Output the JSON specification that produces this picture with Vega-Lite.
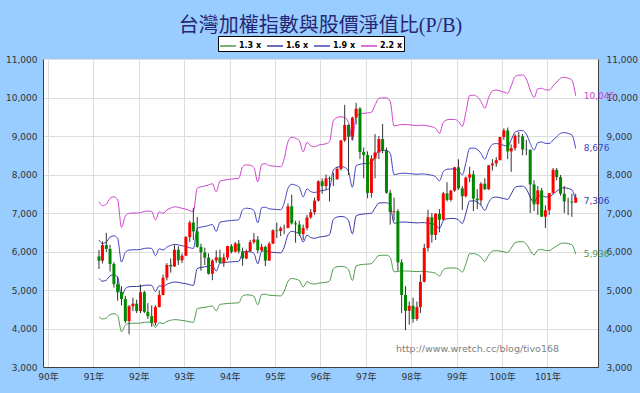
{
"$schema": "https://vega.github.io/schema/vega-lite/v6.json",
"width": 555, "height": 308,
"autosize": {"type": "none"},
"padding": {"left": 43, "top": 59, "right": 42, "bottom": 26},
"background": "#99CCFF",
"config": {
  "view": {"fill": "#FFFFFF", "stroke": "#A0A0A0"},
  "axis": {"labelFont": "DejaVu Sans, Noto Sans CJK TC", "labelFontSize": 9, "labelColor": "#333333", "domainColor": "#404040", "gridColor": "#DDDDDD", "ticks": false, "title": null, "labelOverlap": false, "labelFlush": false}
},
"title": {"text": "台灣加權指數與股價淨值比(P/B)", "font": "Liberation Serif, Noto Sans CJK TC", "fontSize": 20, "fontWeight": "normal", "color": "#262673", "anchor": "middle", "offset": 0},
"datasets": {
"m": [
{"date":"2002-02-15","open":5872,"high":6040,"low":5545,"close":5760,"pb13":4308,"pb16":5302,"pb19":6296,"pb22":7290},
{"date":"2002-03-15","open":5760,"high":6260,"low":5690,"close":6167,"pb13":4249,"pb16":5229,"pb19":6210,"pb22":7190},
{"date":"2002-04-15","open":6167,"high":6484,"low":5990,"close":6066,"pb13":4272,"pb16":5258,"pb19":6244,"pb22":7230},
{"date":"2002-05-15","open":6066,"high":6170,"low":5480,"close":5676,"pb13":4361,"pb16":5367,"pb19":6374,"pb22":7380},
{"date":"2002-06-15","open":5676,"high":5720,"low":5060,"close":5153,"pb13":4385,"pb16":5396,"pb19":6408,"pb22":7420},
{"date":"2002-07-15","open":5153,"high":5340,"low":4720,"close":4941,"pb13":4337,"pb16":5338,"pb19":6339,"pb22":7340},
{"date":"2002-08-15","open":4941,"high":5100,"low":4600,"close":4765,"pb13":3918,"pb16":4822,"pb19":5726,"pb22":6630},
{"date":"2002-09-15","open":4765,"high":4850,"low":4140,"close":4192,"pb13":4089,"pb16":5033,"pb19":5976,"pb22":6920},
{"date":"2002-10-15","open":4192,"high":4610,"low":3850,"close":4579,"pb13":4130,"pb16":5084,"pb19":6037,"pb22":6990},
{"date":"2002-11-15","open":4579,"high":4800,"low":4450,"close":4645,"pb13":4136,"pb16":5091,"pb19":6045,"pb22":7000},
{"date":"2002-12-15","open":4645,"high":4750,"low":4400,"close":4452,"pb13":4136,"pb16":5091,"pb19":6045,"pb22":7000},
{"date":"2003-01-15","open":4452,"high":5141,"low":4400,"close":4941,"pb13":4142,"pb16":5098,"pb19":6054,"pb22":7010},
{"date":"2003-02-15","open":4941,"high":4980,"low":4400,"close":4432,"pb13":4160,"pb16":5120,"pb19":6080,"pb22":7040},
{"date":"2003-03-15","open":4432,"high":4660,"low":4250,"close":4321,"pb13":4166,"pb16":5127,"pb19":6089,"pb22":7050},
{"date":"2003-04-15","open":4321,"high":4600,"low":4044,"close":4148,"pb13":4160,"pb16":5120,"pb19":6080,"pb22":7040},
{"date":"2003-05-15","open":4148,"high":4600,"low":4080,"close":4556,"pb13":4030,"pb16":4960,"pb19":5890,"pb22":6820},
{"date":"2003-06-15","open":4556,"high":4990,"low":4550,"close":4872,"pb13":4154,"pb16":5113,"pb19":6071,"pb22":7030},
{"date":"2003-07-15","open":4872,"high":5400,"low":4860,"close":5318,"pb13":4130,"pb16":5084,"pb19":6037,"pb22":6990},
{"date":"2003-08-15","open":5318,"high":5700,"low":5250,"close":5651,"pb13":4184,"pb16":5149,"pb19":6115,"pb22":7080},
{"date":"2003-09-15","open":5651,"high":5820,"low":5450,"close":5611,"pb13":4213,"pb16":5186,"pb19":6158,"pb22":7130},
{"date":"2003-10-15","open":5611,"high":6180,"low":5600,"close":6045,"pb13":4231,"pb16":5207,"pb19":6184,"pb22":7160},
{"date":"2003-11-15","open":6045,"high":6140,"low":5650,"close":5772,"pb13":4225,"pb16":5200,"pb19":6175,"pb22":7150},
{"date":"2003-12-15","open":5772,"high":5950,"low":5700,"close":5891,"pb13":4207,"pb16":5178,"pb19":6149,"pb22":7120},
{"date":"2004-01-15","open":5891,"high":6400,"low":5880,"close":6375,"pb13":4195,"pb16":5164,"pb19":6132,"pb22":7100},
{"date":"2004-02-15","open":6375,"high":6800,"low":6250,"close":6751,"pb13":4172,"pb16":5135,"pb19":6097,"pb22":7060},
{"date":"2004-03-15","open":6751,"high":7135,"low":6300,"close":6522,"pb13":4160,"pb16":5120,"pb19":6080,"pb22":7040},
{"date":"2004-04-15","open":6522,"high":6900,"low":6100,"close":6118,"pb13":4515,"pb16":5557,"pb19":6598,"pb22":7640},
{"date":"2004-05-15","open":6118,"high":6200,"low":5500,"close":5978,"pb13":4538,"pb16":5586,"pb19":6633,"pb22":7680},
{"date":"2004-06-15","open":5978,"high":6100,"low":5650,"close":5839,"pb13":4550,"pb16":5600,"pb19":6650,"pb22":7700},
{"date":"2004-07-15","open":5839,"high":5950,"low":5400,"close":5421,"pb13":4568,"pb16":5622,"pb19":6676,"pb22":7730},
{"date":"2004-08-15","open":5421,"high":5800,"low":5255,"close":5766,"pb13":4585,"pb16":5644,"pb19":6702,"pb22":7760},
{"date":"2004-09-15","open":5766,"high":6030,"low":5700,"close":5846,"pb13":4461,"pb16":5491,"pb19":6520,"pb22":7550},
{"date":"2004-10-15","open":5846,"high":6050,"low":5700,"close":5706,"pb13":4627,"pb16":5695,"pb19":6762,"pb22":7830},
{"date":"2004-11-15","open":5706,"high":5950,"low":5600,"close":5845,"pb13":4639,"pb16":5709,"pb19":6780,"pb22":7850},
{"date":"2004-12-15","open":5845,"high":6150,"low":5780,"close":6140,"pb13":4650,"pb16":5724,"pb19":6797,"pb22":7870},
{"date":"2005-01-15","open":6140,"high":6190,"low":5950,"close":5994,"pb13":4656,"pb16":5731,"pb19":6805,"pb22":7880},
{"date":"2005-02-15","open":5994,"high":6250,"low":5980,"close":6208,"pb13":4662,"pb16":5738,"pb19":6814,"pb22":7890},
{"date":"2005-03-15","open":6208,"high":6300,"low":5950,"close":6006,"pb13":4668,"pb16":5745,"pb19":6823,"pb22":7900},
{"date":"2005-04-15","open":6006,"high":6100,"low":5630,"close":5818,"pb13":4845,"pb16":5964,"pb19":7082,"pb22":8200},
{"date":"2005-05-15","open":5818,"high":6050,"low":5800,"close":6012,"pb13":4875,"pb16":6000,"pb19":7125,"pb22":8250},
{"date":"2005-06-15","open":6012,"high":6300,"low":6000,"close":6242,"pb13":4869,"pb16":5993,"pb19":7116,"pb22":8240},
{"date":"2005-07-15","open":6242,"high":6480,"low":6200,"close":6312,"pb13":4834,"pb16":5949,"pb19":7064,"pb22":8180},
{"date":"2005-08-15","open":6312,"high":6400,"low":5950,"close":6033,"pb13":4615,"pb16":5680,"pb19":6745,"pb22":7810},
{"date":"2005-09-15","open":6033,"high":6200,"low":6000,"close":6119,"pb13":4881,"pb16":6007,"pb19":7134,"pb22":8260},
{"date":"2005-10-15","open":6119,"high":6150,"low":5620,"close":5764,"pb13":4893,"pb16":6022,"pb19":7151,"pb22":8280},
{"date":"2005-11-15","open":5764,"high":6250,"low":5760,"close":6203,"pb13":4863,"pb16":5986,"pb19":7108,"pb22":8230},
{"date":"2005-12-15","open":6203,"high":6580,"low":6200,"close":6548,"pb13":4857,"pb16":5978,"pb19":7099,"pb22":8220},
{"date":"2006-01-15","open":6548,"high":6750,"low":6350,"close":6532,"pb13":4851,"pb16":5971,"pb19":7090,"pb22":8210},
{"date":"2006-02-15","open":6532,"high":6650,"low":6400,"close":6605,"pb13":4845,"pb16":5964,"pb19":7082,"pb22":8200},
{"date":"2006-03-15","open":6605,"high":6700,"low":6450,"close":6614,"pb13":4964,"pb16":6109,"pb19":7255,"pb22":8400},
{"date":"2006-04-15","open":6614,"high":7250,"low":6600,"close":7172,"pb13":5230,"pb16":6437,"pb19":7643,"pb22":8850},
{"date":"2006-05-15","open":7172,"high":7475,"low":6700,"close":6732,"pb13":5300,"pb16":6524,"pb19":7747,"pb22":8970},
{"date":"2006-06-15","open":6732,"high":6800,"low":6230,"close":6704,"pb13":5283,"pb16":6502,"pb19":7721,"pb22":8940},
{"date":"2006-07-15","open":6704,"high":6800,"low":6400,"close":6455,"pb13":5247,"pb16":6458,"pb19":7669,"pb22":8880},
{"date":"2006-08-15","open":6455,"high":6700,"low":6300,"close":6611,"pb13":5076,"pb16":6247,"pb19":7419,"pb22":8590},
{"date":"2006-09-15","open":6611,"high":6950,"low":6550,"close":6884,"pb13":5218,"pb16":6422,"pb19":7626,"pb22":8830},
{"date":"2006-10-15","open":6884,"high":7100,"low":6850,"close":7021,"pb13":5170,"pb16":6364,"pb19":7557,"pb22":8750},
{"date":"2006-11-15","open":7021,"high":7400,"low":6950,"close":7321,"pb13":5153,"pb16":6342,"pb19":7531,"pb22":8720},
{"date":"2006-12-15","open":7321,"high":7850,"low":7300,"close":7824,"pb13":5176,"pb16":6371,"pb19":7565,"pb22":8760},
{"date":"2007-01-15","open":7824,"high":7900,"low":7500,"close":7700,"pb13":5188,"pb16":6386,"pb19":7583,"pb22":8780},
{"date":"2007-02-15","open":7700,"high":8000,"low":7600,"close":7902,"pb13":5200,"pb16":6400,"pb19":7600,"pb22":8800},
{"date":"2007-03-15","open":7902,"high":7950,"low":7300,"close":7884,"pb13":5230,"pb16":6437,"pb19":7643,"pb22":8850},
{"date":"2007-04-15","open":7884,"high":8050,"low":7700,"close":7875,"pb13":5555,"pb16":6836,"pb19":8118,"pb22":9400},
{"date":"2007-05-15","open":7875,"high":8200,"low":7870,"close":8145,"pb13":5602,"pb16":6895,"pb19":8187,"pb22":9480},
{"date":"2007-06-15","open":8145,"high":8900,"low":8100,"close":8883,"pb13":5614,"pb16":6909,"pb19":8205,"pb22":9500},
{"date":"2007-07-15","open":8883,"high":9809,"low":8850,"close":9287,"pb13":5602,"pb16":6895,"pb19":8187,"pb22":9480},
{"date":"2007-08-15","open":9287,"high":9300,"low":7987,"close":8982,"pb13":5525,"pb16":6800,"pb19":8075,"pb22":9350},
{"date":"2007-09-15","open":8982,"high":9500,"low":8900,"close":9477,"pb13":5247,"pb16":6458,"pb19":7669,"pb22":8880},
{"date":"2007-10-15","open":9477,"high":9860,"low":9300,"close":9711,"pb13":5625,"pb16":6924,"pb19":8222,"pb22":9520},
{"date":"2007-11-15","open":9711,"high":9750,"low":8400,"close":8586,"pb13":5655,"pb16":6960,"pb19":8265,"pb22":9570},
{"date":"2007-12-15","open":8586,"high":8700,"low":7900,"close":8506,"pb13":5667,"pb16":6975,"pb19":8282,"pb22":9590},
{"date":"2008-01-15","open":8506,"high":8600,"low":7384,"close":7521,"pb13":5673,"pb16":6982,"pb19":8291,"pb22":9600},
{"date":"2008-02-15","open":7521,"high":8500,"low":7400,"close":8413,"pb13":5685,"pb16":6996,"pb19":8308,"pb22":9620},
{"date":"2008-03-15","open":8413,"high":9049,"low":7900,"close":8573,"pb13":5791,"pb16":7127,"pb19":8464,"pb22":9800},
{"date":"2008-04-15","open":8573,"high":9000,"low":8400,"close":8920,"pb13":5897,"pb16":7258,"pb19":8619,"pb22":9980},
{"date":"2008-05-15","open":8920,"high":9310,"low":8550,"close":8619,"pb13":5903,"pb16":7266,"pb19":8628,"pb22":9990},
{"date":"2008-06-15","open":8619,"high":8700,"low":7500,"close":7524,"pb13":5903,"pb16":7266,"pb19":8628,"pb22":9990},
{"date":"2008-07-15","open":7524,"high":7600,"low":6700,"close":7024,"pb13":5850,"pb16":7200,"pb19":8550,"pb22":9900},
{"date":"2008-08-15","open":7024,"high":7400,"low":6800,"close":7046,"pb13":5472,"pb16":6735,"pb19":7997,"pb22":9260},
{"date":"2008-09-15","open":7046,"high":7100,"low":5500,"close":5719,"pb13":5484,"pb16":6749,"pb19":8015,"pb22":9280},
{"date":"2008-10-15","open":5719,"high":5800,"low":4400,"close":4871,"pb13":5495,"pb16":6764,"pb19":8032,"pb22":9300},
{"date":"2008-11-15","open":4871,"high":5100,"low":3955,"close":4460,"pb13":5495,"pb16":6764,"pb19":8032,"pb22":9300},
{"date":"2008-12-15","open":4460,"high":4700,"low":4100,"close":4591,"pb13":5490,"pb16":6756,"pb19":8023,"pb22":9290},
{"date":"2009-01-15","open":4591,"high":4800,"low":4150,"close":4248,"pb13":5484,"pb16":6749,"pb19":8015,"pb22":9280},
{"date":"2009-02-15","open":4248,"high":4700,"low":4200,"close":4557,"pb13":5478,"pb16":6742,"pb19":8006,"pb22":9270},
{"date":"2009-03-15","open":4557,"high":5400,"low":4400,"close":5211,"pb13":5484,"pb16":6749,"pb19":8015,"pb22":9280},
{"date":"2009-04-15","open":5211,"high":6200,"low":5200,"close":6092,"pb13":5484,"pb16":6749,"pb19":8015,"pb22":9280},
{"date":"2009-05-15","open":6092,"high":7084,"low":6000,"close":6890,"pb13":5472,"pb16":6735,"pb19":7997,"pb22":9260},
{"date":"2009-06-15","open":6890,"high":7000,"low":6230,"close":6432,"pb13":5460,"pb16":6720,"pb19":7980,"pb22":9240},
{"date":"2009-07-15","open":6432,"high":7000,"low":6300,"close":6979,"pb13":5436,"pb16":6691,"pb19":7945,"pb22":9200},
{"date":"2009-08-15","open":6979,"high":7100,"low":6500,"close":6826,"pb13":5359,"pb16":6596,"pb19":7833,"pb22":9070},
{"date":"2009-09-15","open":6826,"high":7550,"low":6800,"close":7509,"pb13":5525,"pb16":6800,"pb19":8075,"pb22":9350},
{"date":"2009-10-15","open":7509,"high":7800,"low":7300,"close":7340,"pb13":5566,"pb16":6851,"pb19":8135,"pb22":9420},
{"date":"2009-11-15","open":7340,"high":7600,"low":7300,"close":7582,"pb13":5572,"pb16":6858,"pb19":8144,"pb22":9430},
{"date":"2009-12-15","open":7582,"high":8200,"low":7550,"close":8188,"pb13":5572,"pb16":6858,"pb19":8144,"pb22":9430},
{"date":"2010-01-15","open":8188,"high":8395,"low":7600,"close":7640,"pb13":5543,"pb16":6822,"pb19":8101,"pb22":9380},
{"date":"2010-02-15","open":7640,"high":7700,"low":7080,"close":7436,"pb13":5466,"pb16":6727,"pb19":7989,"pb22":9250},
{"date":"2010-03-15","open":7436,"high":7950,"low":7400,"close":7920,"pb13":5673,"pb16":6982,"pb19":8291,"pb22":9600},
{"date":"2010-04-15","open":7920,"high":8200,"low":7800,"close":8004,"pb13":5939,"pb16":7309,"pb19":8679,"pb22":10050},
{"date":"2010-05-15","open":8004,"high":8100,"low":7050,"close":7374,"pb13":5945,"pb16":7316,"pb19":8688,"pb22":10060},
{"date":"2010-06-15","open":7374,"high":7620,"low":7100,"close":7329,"pb13":5921,"pb16":7287,"pb19":8654,"pb22":10020},
{"date":"2010-07-15","open":7329,"high":7800,"low":7200,"close":7761,"pb13":5850,"pb16":7200,"pb19":8550,"pb22":9900},
{"date":"2010-08-15","open":7761,"high":7900,"low":7600,"close":7616,"pb13":5744,"pb16":7069,"pb19":8394,"pb22":9720},
{"date":"2010-09-15","open":7616,"high":8250,"low":7600,"close":8238,"pb13":5909,"pb16":7273,"pb19":8636,"pb22":10000},
{"date":"2010-10-15","open":8238,"high":8400,"low":8100,"close":8287,"pb13":6010,"pb16":7396,"pb19":8783,"pb22":10170},
{"date":"2010-11-15","open":8287,"high":8450,"low":8200,"close":8372,"pb13":6024,"pb16":7415,"pb19":8805,"pb22":10195},
{"date":"2010-12-15","open":8372,"high":8980,"low":8370,"close":8973,"pb13":6010,"pb16":7396,"pb19":8783,"pb22":10170},
{"date":"2011-01-15","open":8973,"high":9200,"low":8900,"close":9145,"pb13":5992,"pb16":7375,"pb19":8757,"pb22":10140},
{"date":"2011-02-15","open":9145,"high":9220,"low":8400,"close":8600,"pb13":5974,"pb16":7353,"pb19":8731,"pb22":10110},
{"date":"2011-03-15","open":8600,"high":8780,"low":8070,"close":8683,"pb13":6086,"pb16":7491,"pb19":8895,"pb22":10300},
{"date":"2011-04-15","open":8683,"high":9050,"low":8620,"close":9008,"pb13":6228,"pb16":7665,"pb19":9103,"pb22":10540},
{"date":"2011-05-15","open":9008,"high":9100,"low":8800,"close":8991,"pb13":6252,"pb16":7695,"pb19":9137,"pb22":10580},
{"date":"2011-06-15","open":8991,"high":9050,"low":8500,"close":8653,"pb13":6255,"pb16":7698,"pb19":9142,"pb22":10585},
{"date":"2011-07-15","open":8653,"high":8900,"low":8500,"close":8644,"pb13":6193,"pb16":7622,"pb19":9051,"pb22":10480},
{"date":"2011-08-15","open":8644,"high":8650,"low":7000,"close":7741,"pb13":6027,"pb16":7418,"pb19":8809,"pb22":10200},
{"date":"2011-09-15","open":7741,"high":7850,"low":7050,"close":7225,"pb13":5909,"pb16":7273,"pb19":8636,"pb22":10000},
{"date":"2011-10-15","open":7225,"high":7700,"low":6950,"close":7588,"pb13":6039,"pb16":7433,"pb19":8826,"pb22":10220},
{"date":"2011-11-15","open":7588,"high":7650,"low":6900,"close":6904,"pb13":6051,"pb16":7447,"pb19":8844,"pb22":10240},
{"date":"2011-12-15","open":6904,"high":7200,"low":6609,"close":7072,"pb13":6027,"pb16":7418,"pb19":8809,"pb22":10200},
{"date":"2012-01-15","open":7072,"high":7520,"low":6950,"close":7517,"pb13":6024,"pb16":7415,"pb19":8805,"pb22":10195},
{"date":"2012-02-15","open":7517,"high":8170,"low":7500,"close":8121,"pb13":6086,"pb16":7491,"pb19":8895,"pb22":10300},
{"date":"2012-03-15","open":8121,"high":8170,"low":7850,"close":7933,"pb13":6145,"pb16":7564,"pb19":8982,"pb22":10400},
{"date":"2012-04-15","open":7933,"high":7990,"low":7450,"close":7502,"pb13":6205,"pb16":7636,"pb19":9068,"pb22":10500},
{"date":"2012-05-15","open":7502,"high":7700,"low":7000,"close":7302,"pb13":6219,"pb16":7655,"pb19":9090,"pb22":10525},
{"date":"2012-06-15","open":7302,"high":7400,"low":6950,"close":7296,"pb13":6205,"pb16":7636,"pb19":9068,"pb22":10500},
{"date":"2012-07-15","open":7296,"high":7500,"low":6900,"close":7270,"pb13":6175,"pb16":7600,"pb19":9025,"pb22":10450},
{"date":"2012-08-15","open":7270,"high":7500,"low":7260,"close":7400,"pb13":5936,"pb16":7306,"pb19":8676,"pb22":10045}
],
"ends": [
{"date":"2012-08-15","series":"pb13","value":5936},
{"date":"2012-08-15","series":"pb16","value":7306},
{"date":"2012-08-15","series":"pb19","value":8676},
{"date":"2012-08-15","series":"pb22","value":10045}
]
},
"layer": [
{
"layer": [
{
"data": {"name": "m"},
"transform": [{"fold": ["pb13","pb16","pb19","pb22"], "as": ["series","value"]}],
"mark": {"type": "line", "interpolate": "monotone", "strokeWidth": 1},
"encoding": {
"x": {"field": "date", "type": "temporal", "scale": {"type": "utc", "domain": [{"year":2001,"month":1,"date":1,"utc":true},{"year":2013,"month":1,"date":1,"utc":true}]},
  "axis": {"values": [{"year":2001,"month":1,"date":1,"utc":true},{"year":2002,"month":1,"date":1,"utc":true},{"year":2003,"month":1,"date":1,"utc":true},{"year":2004,"month":1,"date":1,"utc":true},{"year":2005,"month":1,"date":1,"utc":true},{"year":2006,"month":1,"date":1,"utc":true},{"year":2007,"month":1,"date":1,"utc":true},{"year":2008,"month":1,"date":1,"utc":true},{"year":2009,"month":1,"date":1,"utc":true},{"year":2010,"month":1,"date":1,"utc":true},{"year":2011,"month":1,"date":1,"utc":true},{"year":2012,"month":1,"date":1,"utc":true}], "labelExpr": "(utcyear(datum.value) - 1911) + '年'", "grid": true, "labelPadding": 5, "labelFlush": false}},
"y": {"field": "value", "type": "quantitative", "scale": {"domain": [3000, 11000], "nice": false, "zero": false},
  "axis": {"orient": "left", "values": [3000,4000,5000,6000,7000,8000,9000,10000,11000], "format": ",d", "grid": true, "labelPadding": 6, "labelOverlap": false}},
"color": {"field": "series", "type": "nominal", "scale": {"domain": ["pb13","pb16","pb19","pb22"], "range": ["#4E9A4E","#3838A8","#4444C0","#CC44CC"]},
  "legend": {"orient": "none", "legendX": 175, "legendY": -23, "direction": "horizontal", "title": null,
    "labelExpr": "{'pb13':'1.3 x','pb16':'1.6 x','pb19':'1.9 x','pb22':'2.2 x'}[datum.label]",
    "labelFont": "DejaVu Sans", "labelFontSize": 8, "labelFontWeight": "bold", "labelColor": "#000000",
    "symbolType": "stroke", "symbolSize": 256, "symbolStrokeWidth": 1.5,
    "strokeColor": "#000000", "fillColor": "#FFFFFF", "padding": 1, "columnPadding": 2, "labelOffset": 2}}
}
},
{
"data": {"name": "m"},
"mark": {"type": "rule", "color": "#333333", "strokeWidth": 1},
"encoding": {
"x": {"field": "date", "type": "temporal", "scale": {"type": "utc", "domain": [{"year":2001,"month":1,"date":1,"utc":true},{"year":2013,"month":1,"date":1,"utc":true}]}},
"y": {"field": "low", "type": "quantitative", "scale": {"domain": [3000, 11000], "nice": false, "zero": false},
  "axis": {"orient": "left", "values": [3000,4000,5000,6000,7000,8000,9000,10000,11000], "format": ",d", "grid": true, "labelPadding": 6, "labelOverlap": false}},
"y2": {"field": "high"}
}
},
{
"data": {"name": "m"},
"mark": {"type": "bar", "width": 3},
"encoding": {
"x": {"field": "date", "type": "temporal", "scale": {"type": "utc", "domain": [{"year":2001,"month":1,"date":1,"utc":true},{"year":2013,"month":1,"date":1,"utc":true}]}},
"y": {"field": "open", "type": "quantitative", "scale": {"domain": [3000, 11000], "nice": false, "zero": false},
  "axis": {"orient": "left", "values": [3000,4000,5000,6000,7000,8000,9000,10000,11000], "format": ",d", "grid": true, "labelPadding": 6, "labelOverlap": false}},
"y2": {"field": "close"},
"color": {"condition": {"test": "datum.close >= datum.open", "value": "#FF0000"}, "value": "#008800"}
}
}
]
},
{
"layer": [
{
"data": {"name": "ends"},
"mark": {"type": "text", "font": "DejaVu Sans", "fontSize": 9, "align": "left", "baseline": "middle", "dx": 8},
"encoding": {
"x": {"field": "date", "type": "temporal", "scale": {"type": "utc", "domain": [{"year":2001,"month":1,"date":1,"utc":true},{"year":2013,"month":1,"date":1,"utc":true}]}},
"y": {"field": "value", "type": "quantitative", "scale": {"domain": [3000, 11000], "nice": false, "zero": false},
  "axis": {"orient": "right", "values": [3000,4000,5000,6000,7000,8000,9000,10000,11000], "format": ",d", "grid": false, "labelPadding": 8, "labelOverlap": false}},
"text": {"field": "value", "type": "quantitative", "format": ","},
"color": {"field": "series", "type": "nominal", "scale": {"domain": ["pb13","pb16","pb19","pb22"], "range": ["#4E9A4E","#3838A8","#4444C0","#CC44CC"]}, "legend": null}
}
},
{
"data": {"values": [{}]},
"mark": {"type": "text", "font": "DejaVu Sans", "fontSize": 9.5, "color": "#808080", "align": "center", "baseline": "middle"},
"encoding": {
"x": {"datum": {"year":2010,"month":6,"date":17,"utc":true}, "type": "temporal", "scale": {"type": "utc", "domain": [{"year":2001,"month":1,"date":1,"utc":true},{"year":2013,"month":1,"date":1,"utc":true}]}},
"y": {"datum": 3470, "type": "quantitative", "scale": {"domain": [3000, 11000], "nice": false, "zero": false},
  "axis": {"orient": "right", "values": [3000,4000,5000,6000,7000,8000,9000,10000,11000], "format": ",d", "grid": false, "labelPadding": 8, "labelOverlap": false}},
"text": {"value": "http://www.wretch.cc/blog/tivo168"}
}
}
]
}
],
"resolve": {"axis": {"y": "independent"}}
}
